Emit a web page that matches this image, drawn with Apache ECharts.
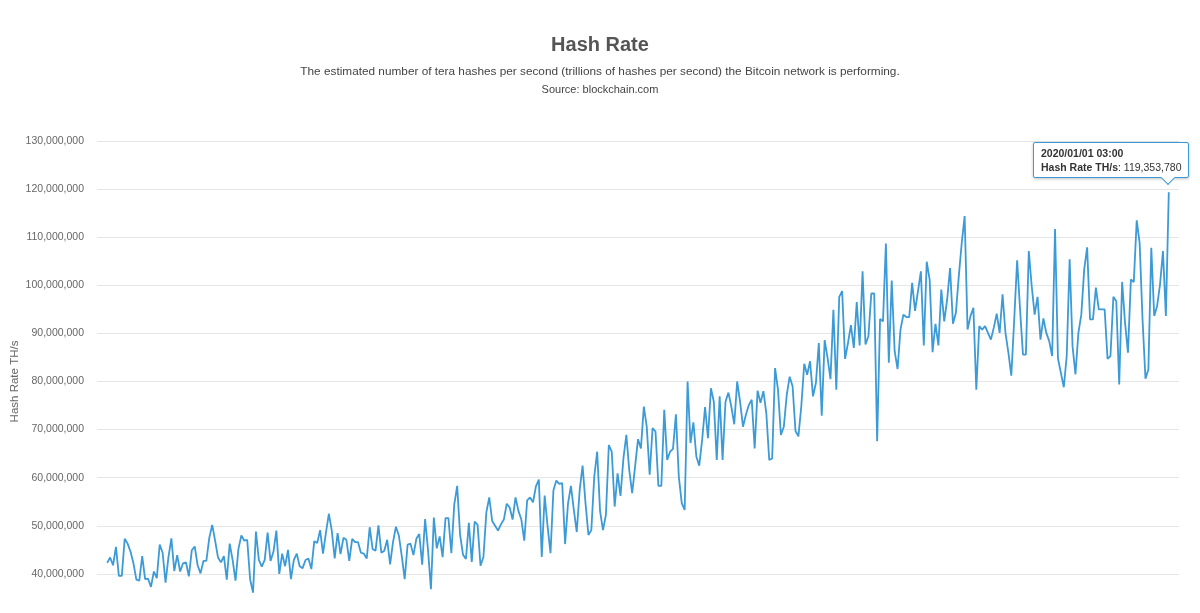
<!doctype html>
<html>
<head>
<meta charset="utf-8">
<script src="https://cdn.jsdelivr.net/npm/echarts@6/dist/echarts.min.js"></script>
<style>
* { margin: 0; padding: 0; }
html, body { background: #fff; }
#chart { width: 1200px; height: 613px; }
</style>
</head>
<body>
<div id="chart"></div>
<script>
// hash rate, millions of TH/s, one point a day
var hashRate = [
	42.3, 43.4, 41.8, 45.6, 39.6, 39.6, 47.3, 46.3, 44.6, 42.2,
	38.8, 38.6, 43.7, 38.9, 39.0, 37.3, 40.5, 39.1, 46.1, 44.4,
	38.2, 43.5, 47.4, 40.6, 43.9, 40.5, 42.2, 42.4, 39.5, 44.9,
	45.7, 41.8, 40.1, 42.7, 42.7, 47.5, 50.2, 46.9, 43.4, 42.4,
	43.7, 38.8, 46.3, 42.9, 38.6, 45.2, 48.0, 46.9, 47.1, 38.9,
	36.1, 48.8, 42.9,
	41.5, 42.9, 48.6, 42.7, 44.6, 49.0, 40.0, 44.2, 41.6, 45.0,
	38.9, 42.9, 44.2, 41.6, 41.2, 42.9, 43.2, 41.0, 46.8, 46.4,
	49.1, 44.2, 48.6, 52.5, 49.0, 43.2, 48.5, 44.1, 47.5, 47.1,
	42.7, 47.3, 46.6, 46.6, 44.4, 44.2, 43.2, 49.7, 45.2, 44.8,
	50.1, 44.4, 44.8, 47.1, 42.0, 46.6, 49.8, 48.0, 43.7, 38.9,
	46.1, 46.3, 43.9, 47.3, 48.3,
	41.9, 51.4, 45.0, 36.8, 51.7, 45.3, 47.8, 43.5, 51.6, 51.6,
	44.3, 54.4, 58.3, 48.1, 44.0, 43.1, 50.6, 42.5, 50.9, 50.2,
	41.7, 43.5, 52.8, 55.9, 51.0, 50.0, 49.0, 50.3, 51.3, 54.6,
	53.8, 51.3, 55.9, 53.1, 51.3, 46.9, 55.3, 55.9, 54.9, 58.2,
	59.6, 43.5, 56.3, 49.9, 44.3, 57.4, 59.4, 58.7, 58.9, 46.2,
	54.6, 58.3, 53.3, 48.7, 57.4, 62.5, 54.7, 48.1,
	49.1, 60.2, 65.4, 53.0, 49.1, 52.3, 66.8, 65.4, 54.0, 60.9,
	56.2, 64.0, 68.9, 61.6, 56.8, 62.3, 68.0, 66.1, 74.8, 70.6,
	60.6, 70.3, 69.6, 58.3, 58.3, 74.1, 63.7, 65.4, 66.0, 73.2,
	60.2, 54.7, 53.3, 80.0, 67.2, 71.5, 64.4, 62.5, 67.9, 74.7,
	68.2, 78.6, 75.8, 63.7, 76.9, 63.7, 75.8, 77.7, 74.8, 71.1,
	80.0, 75.8, 70.6, 73.1, 75.1, 76.2, 66.1, 78.1, 75.6, 78.0,
	73.4, 63.7, 64.0, 82.8, 78.3, 68.9, 70.6, 77.2, 81.0,
	79.0, 69.7, 68.6, 74.9, 83.7, 81.4, 84.2, 76.9, 79.7, 88.0,
	72.9, 88.6, 84.9, 80.5, 94.9, 78.3, 97.6, 98.8, 84.7, 88.0,
	91.7, 87.0, 96.5, 87.5, 102.9, 87.7, 89.4, 98.3, 98.3, 67.6,
	93.0, 92.5, 108.7, 83.9, 101.0, 86.3, 82.6, 90.8, 93.9, 93.4,
	93.4, 100.5, 94.7, 98.8, 102.9, 87.5, 104.9, 101.2, 86.1, 92.0,
	87.5, 99.1, 92.5, 97.0, 103.6, 92.0, 94.3, 101.9, 108.8, 114.4,
	90.8, 93.6, 95.3, 78.3, 91.5,
	90.8, 91.5, 90.1, 88.7, 91.2, 94.1, 90.1, 98.1, 90.1, 86.0,
	81.2, 92.9, 105.2, 95.0, 85.6, 85.6, 107.1, 99.8, 93.9, 97.6,
	88.7, 93.1, 90.1, 88.4, 85.3, 111.7, 84.8, 81.8, 78.8, 85.3,
	105.4, 87.3, 81.5, 90.1, 93.9, 103.3, 107.9, 92.9, 92.9, 99.5,
	95.0, 95.0, 95.0, 84.7, 85.3, 97.6, 96.7, 79.4, 100.7, 92.2,
	86.0, 101.2, 100.7, 113.5, 108.8, 92.9, 80.6, 82.5, 107.8, 93.6,
	95.7, 100.2, 107.1, 93.6, 119.35378
];
// first day of the series (2019/01/02 03:00), one point per day
var startYear = 2019, startMonth = 0, startDay = 2, startHour = 3;
var yTicks = [30000000, 40000000, 50000000, 60000000, 70000000, 80000000, 90000000, 100000000, 110000000, 120000000, 130000000];

var seriesName = 'Hash Rate TH/s';
var lineColor = '#3c9ad6';
var font = '"Liberation Sans", Helvetica, Arial, sans-serif';

function pad(n) { return n < 10 ? '0' + n : '' + n; }

var times = [], dates = [], points = [];
for (var i = 0; i < hashRate.length; i++) {
	var d = new Date(startYear, startMonth, startDay + i, startHour, 0);
	times.push(d.getTime());
	dates.push(d.getFullYear() + '/' + pad(d.getMonth() + 1) + '/' + pad(d.getDate()) + ' ' + pad(d.getHours()) + ':' + pad(d.getMinutes()));
	points.push([d.getTime(), Math.round(hashRate[i] * 1e6)]);
}
var DAY = 864e5;

var chart = echarts.init(document.getElementById('chart'));
chart.setOption({
	animation: false,
	title: [
		{ text: 'Hash Rate', left: 'center', top: 35, padding: 0,
		  textStyle: { fontFamily: font, fontSize: 20, fontWeight: 'bold', color: '#555' } },
		{ text: 'The estimated number of tera hashes per second (trillions of hashes per second) the Bitcoin network is performing.',
		  left: 'center', top: 66, padding: 0,
		  textStyle: { fontFamily: font, fontSize: 11.8, fontWeight: 'normal', color: '#444' } },
		{ text: 'Source: blockchain.com', left: 'center', top: 84, padding: 0,
		  textStyle: { fontFamily: font, fontSize: 11, fontWeight: 'normal', color: '#444' } }
	],
	grid: { left: 97, right: 21, top: 141, height: 481, outerBoundsMode: 'none' },
	tooltip: {
		trigger: 'axis',
		triggerOn: 'none',
		alwaysShowContent: true,
		transitionDuration: 0,
		axisPointer: { type: 'none' },
		backgroundColor: '#fff',
		borderColor: lineColor,
		borderWidth: 1,
		padding: [3, 7],
		textStyle: { fontFamily: font, fontSize: 10.5, color: '#333', lineHeight: 14 },
		extraCssText: 'border-radius:2px;box-shadow:0 1px 3px rgba(0,0,0,0.25);line-height:14px;',
		position: function (pt, params, dom, rect, size) {
			return [pt[0] - size.contentSize[0] + 20, pt[1] - size.contentSize[1] - 14];
		},
		formatter: function (params) {
			var p = params[0];
			return '<b>' + dates[p.dataIndex] + '</b><br/>' +
				'<b>' + p.seriesName + '</b>: ' + echarts.format.addCommas(p.value[1]) +
				'<div style="position:absolute;right:15px;bottom:-6px;width:9px;height:9px;background:#fff;' +
				'border-right:1px solid ' + lineColor + ';border-bottom:1px solid ' + lineColor + ';transform:rotate(45deg);"></div>';
		}
	},
	xAxis: {
		type: 'time',
		min: times[0] - 3.5 * DAY,
		max: times[times.length - 1] + 3.5 * DAY,
		axisLine: { show: false },
		axisTick: { show: false },
		axisLabel: { show: false },
		splitLine: { show: false }
	},
	yAxis: {
		type: 'value',
		min: yTicks[0],
		max: yTicks[yTicks.length - 1],
		interval: yTicks[1] - yTicks[0],
		name: seriesName,
		nameLocation: 'middle',
		nameGap: 82,
		nameMoveOverlap: false,
		nameTextStyle: { fontFamily: font, fontSize: 11.5, color: '#666', verticalAlign: 'middle' },
		axisLine: { show: false },
		axisTick: { show: false },
		axisLabel: {
			margin: 13,
			fontFamily: font, fontSize: 10.5, color: '#666',
			formatter: function (v) { return echarts.format.addCommas(v); }
		},
		splitLine: { lineStyle: { color: '#e6e6e6', width: 1 } }
	},
	series: [{
		name: seriesName,
		type: 'line',
		data: points,
		symbol: 'none',
		lineStyle: { color: lineColor, width: 1.8 },
		itemStyle: { color: lineColor },
		emphasis: { disabled: true }
	}]
});

chart.dispatchAction({ type: 'showTip', seriesIndex: 0, dataIndex: points.length - 1 });
</script>
</body>
</html>
